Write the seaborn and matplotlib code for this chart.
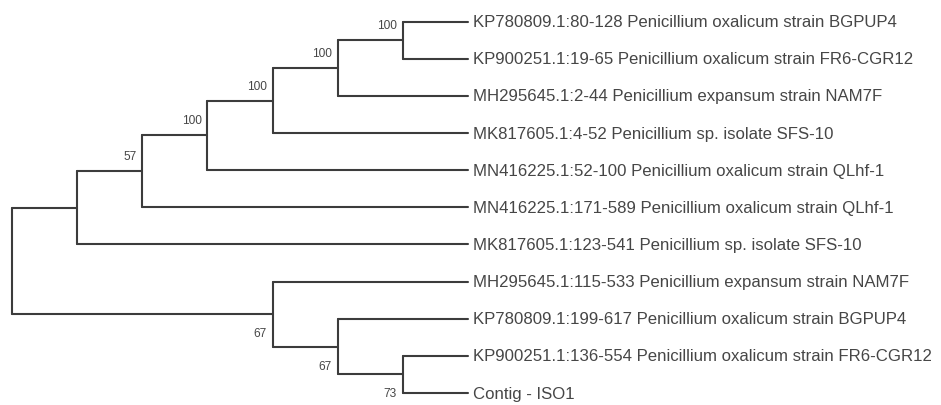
import matplotlib
matplotlib.use("Agg")
import matplotlib.pyplot as plt
import pandas as pd
import seaborn as sns

# tip labels, top to bottom
leaf_labels = [
    "KP780809.1:80-128 Penicillium oxalicum strain BGPUP4",
    "KP900251.1:19-65 Penicillium oxalicum strain FR6-CGR12",
    "MH295645.1:2-44 Penicillium expansum strain NAM7F",
    "MK817605.1:4-52 Penicillium sp. isolate SFS-10",
    "MN416225.1:52-100 Penicillium oxalicum strain QLhf-1",
    "MN416225.1:171-589 Penicillium oxalicum strain QLhf-1",
    "MK817605.1:123-541 Penicillium sp. isolate SFS-10",
    "MH295645.1:115-533 Penicillium expansum strain NAM7F",
    "KP780809.1:199-617 Penicillium oxalicum strain BGPUP4",
    "KP900251.1:136-554 Penicillium oxalicum strain FR6-CGR12",
    "Contig - ISO1",
]

# topology (leaf indices), topology-only layout
tree = (((((((0, 1), 2), 3), 4), 5), 6), (7, (8, (9, 10))))

# bootstrap values per clade
support_clades = [(0, 1), (0, 1, 2), (0, 1, 2, 3), (0, 1, 2, 3, 4),
                  (0, 1, 2, 3, 4, 5), (7, 8, 9, 10), (8, 9, 10), (9, 10)]
support_values = [100, 100, 100, 100, 57, 67, 67, 73]

LINE = "#3c3c3c"
TEXT = "#464646"


def leaves(node):
    if isinstance(node, int):
        return (node,)
    out = ()
    for child in node:
        out += leaves(child)
    return out


def height(node):
    if isinstance(node, int):
        return 0
    return 1 + max(height(c) for c in node)


max_h = height(tree)
segments = []
nodes = []  # (clade, x, y, is_lower_child)


def layout(node, lower=False):
    x = max_h - height(node)
    if isinstance(node, int):
        y = node
        nodes.append(((node,), x, y, lower))
        return x, y
    kids = [layout(c, i > 0) for i, c in enumerate(node)]
    y = (kids[0][1] + kids[-1][1]) / 2
    segments.append([(x, kids[0][1]), (x, kids[-1][1])])
    for kx, ky in kids:
        segments.append([(x, ky), (kx, ky)])
    nodes.append((leaves(node), x, y, lower))
    return x, y


layout(tree)

rows = []
for i, seg in enumerate(segments):
    for px, py in seg:
        rows.append({"seg": i, "x": px, "y": py})
seg_df = pd.DataFrame(rows)

sns.set_style("white")
plt.rcParams["font.family"] = ["Liberation Sans", "DejaVu Sans"]

fig = plt.figure(figsize=(9.41, 4.06), dpi=100)
ax = fig.add_axes([0, 0, 1, 1])

sns.lineplot(data=seg_df, x="x", y="y", units="seg", estimator=None,
             sort=False, color=LINE, linewidth=1.5, ax=ax, legend=False)

for (clade, x, y, lower) in nodes:
    if len(clade) == 1:
        ax.annotate(leaf_labels[clade[0]], (x, y), xytext=(5, 0),
                    textcoords="offset pixels", ha="left", va="center",
                    fontsize=12.1, color=TEXT)
    elif clade in support_clades:
        val = support_values[support_clades.index(clade)]
        if lower:
            ax.annotate(str(val), (x, y), xytext=(-6, -13),
                        textcoords="offset pixels", ha="right", va="top",
                        fontsize=8.6, color=TEXT)
        else:
            ax.annotate(str(val), (x, y), xytext=(-6, 9),
                        textcoords="offset pixels", ha="right", va="bottom",
                        fontsize=8.6, color=TEXT)

step_px = (468 - 12) / max_h
ax.set_xlim(-12 / step_px, (941 - 12) / step_px)
row_px = (394 - 22.6) / (len(leaf_labels) - 1)
ax.set_ylim((406 - 22.6) / row_px, -22.6 / row_px)
ax.axis("off")

fig.savefig("out.png", dpi=100, facecolor="white")
